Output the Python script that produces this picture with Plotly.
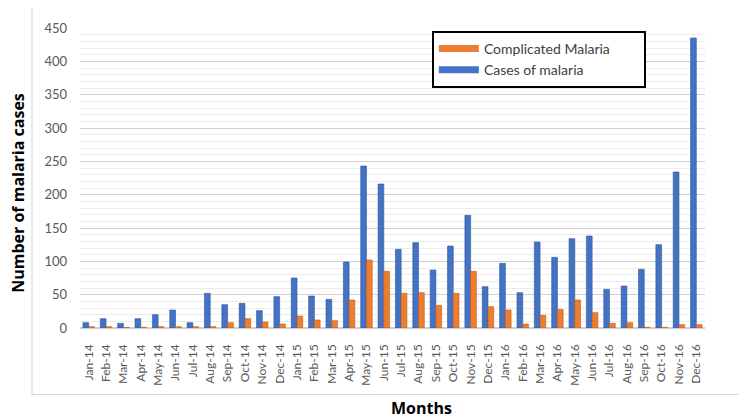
import plotly.graph_objects as go

months = ["Jan", "Feb", "Mar", "Apr", "May", "Jun", "Jul", "Aug", "Sep", "Oct", "Nov", "Dec"]
years = ["14", "15", "16"]
labels = [m + "-" + y for y in years for m in months]

cases = [8, 14, 7, 14, 20, 27, 8, 52, 35, 37, 26, 47,
         75, 48, 43, 99, 243, 216, 118, 128, 87, 123, 169, 62,
         97, 53, 129, 106, 134, 138, 58, 63, 88, 125, 234, 435]
complicated = [2, 2, 1, 1, 2, 2, 2, 2, 8, 14, 9, 6,
               18, 12, 11, 42, 102, 85, 52, 53, 34, 52, 85, 32,
               27, 6, 19, 28, 42, 23, 7, 8, 1, 1, 5, 5]

BLUE = "#4472C4"
ORANGE = "#ED7D31"
FONT = "Lato"
TITLE_FONT = dict(family="Open Sans", size=16, color="#000000")
PAD = "\u00a0" * 8  # extra room on the right of the legend box, as in the original

fig = go.Figure()
fig.add_trace(go.Bar(x=labels, y=cases, name="Cases of malaria", marker_color=BLUE,
                     marker_line=dict(color="#2F5597", width=0.6), showlegend=False))
fig.add_trace(go.Bar(x=labels, y=complicated, name="Complicated Malaria", marker_color=ORANGE,
                     marker_line=dict(color="#C55A11", width=0.6), showlegend=False))

# legend swatches drawn as wide strokes, like the Excel legend
fig.add_trace(go.Scatter(x=[None], y=[None], mode="lines", name="Complicated Malaria" + PAD,
                         line=dict(color=ORANGE, width=7)))
fig.add_trace(go.Scatter(x=[None], y=[None], mode="lines", name="Cases of malaria",
                         line=dict(color=BLUE, width=7)))

fig.update_xaxes(
    tickangle=-90,
    tickfont=dict(family=FONT, size=12, color="#595959"),
    ticklabelstandoff=13,
    showgrid=False,
    showline=False,
    ticks="",
)
fig.update_yaxes(
    range=[0, 450],
    dtick=50,
    tickfont=dict(family=FONT, size=13, color="#595959"),
    ticklabelstandoff=12,
    showgrid=True,
    gridcolor="#d0d0d0",
    gridwidth=1.2,
    minor=dict(dtick=10, showgrid=True, gridcolor="#ececec", gridwidth=1),
    zeroline=True,
    zerolinecolor="#d0d0d0",
    showline=False,
)

# page body has an 8px margin, so the figure is 8px smaller than the window
fig.update_layout(
    width=739,
    height=411,
    margin=dict(l=72, r=42, t=20, b=91, autoexpand=False),
    paper_bgcolor="white",
    plot_bgcolor="white",
    barmode="group",
    bargap=0.34,
    bargroupgap=0,
    legend=dict(
        x=0.563, y=0.99, xanchor="left", yanchor="top",
        bordercolor="#000000", borderwidth=2,
        font=dict(family=FONT, size=14, color="#404040"),
        itemwidth=40,
        tracegroupgap=4,
    ),
    shapes=[dict(type="rect", xref="paper", yref="paper",
                 x0=-0.0768, x1=1.056, y0=-0.2216, y1=1.074,
                 line=dict(color="#d9d9d9", width=1.2))],
    annotations=[
        dict(text="<b>Months</b>", xref="paper", yref="paper", x=0.546, y=-0.265,
             showarrow=False, font=TITLE_FONT, xanchor="center", yanchor="middle"),
        dict(text="<b>Number of malaria cases</b>", xref="paper", yref="paper", x=-0.099, y=0.451,
             showarrow=False, font=TITLE_FONT, textangle=-90, xanchor="center", yanchor="middle"),
    ],
)

fig.write_html("out.html")
